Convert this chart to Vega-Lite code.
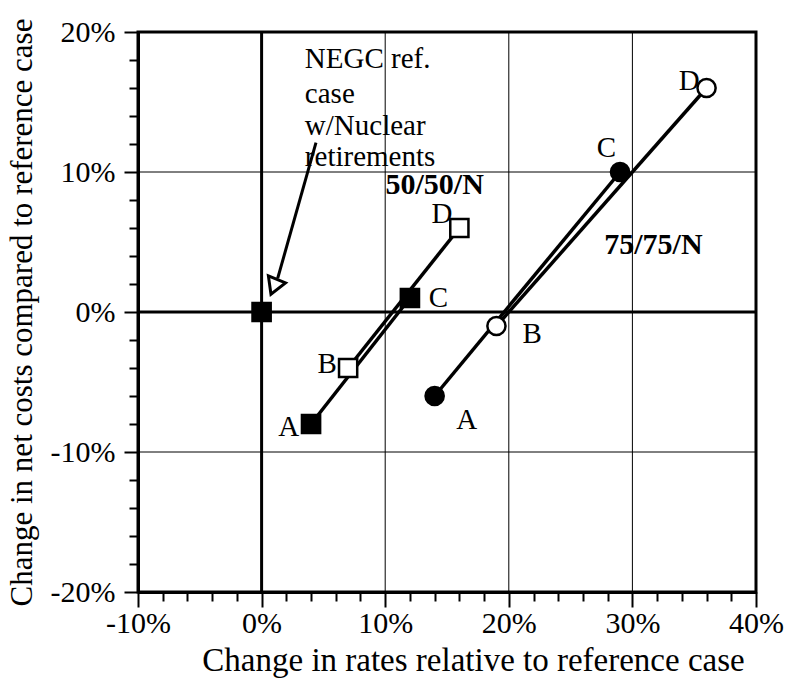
{
  "$schema": "https://vega.github.io/schema/vega-lite/v6.json",
  "width": 618,
  "height": 560,
  "autosize": {"type": "none"},
  "padding": {"left": 138, "top": 32, "right": 29, "bottom": 91},
  "background": "white",
  "config": {
    "font": "Liberation Serif",
    "view": {"stroke": "black", "strokeWidth": 3},
    "axis": {
      "labelFont": "Liberation Serif",
      "labelFontSize": 30,
      "labelColor": "black",
      "titleFont": "Liberation Serif",
      "titleFontSize": 31,
      "titleFontWeight": "normal",
      "titleColor": "black",
      "domainColor": "black",
      "domainWidth": 3,
      "tickColor": "black",
      "tickWidth": 2,
      "grid": false,
      "labelOverlap": false,
      "labelFlush": false,
      "labelBound": false
    }
  },
  "datasets": {
    "vgrid": [
      {"x": 0, "w": "zero"},
      {"x": 10, "w": "grid"},
      {"x": 20, "w": "grid"},
      {"x": 30, "w": "grid"}
    ],
    "hgrid": [
      {"y": -10, "w": "grid"},
      {"y": 0, "w": "zero"},
      {"y": 10, "w": "grid"}
    ],
    "lines": [
      {"s": "50f", "x": 4, "y": -8},
      {"s": "50f", "x": 12, "y": 1},
      {"s": "50o", "x": 7, "y": -4},
      {"s": "50o", "x": 16, "y": 6},
      {"s": "75f", "x": 14, "y": -6},
      {"s": "75f", "x": 29, "y": 10},
      {"s": "75o", "x": 19, "y": -1},
      {"s": "75o", "x": 36, "y": 16}
    ],
    "points": [
      {"kind": "filled square", "x": 0, "y": 0},
      {"kind": "filled square", "x": 4, "y": -8},
      {"kind": "open square", "x": 7, "y": -4},
      {"kind": "filled square", "x": 12, "y": 1},
      {"kind": "open square", "x": 16, "y": 6},
      {"kind": "filled circle", "x": 14, "y": -6},
      {"kind": "open circle", "x": 19, "y": -1},
      {"kind": "filled circle", "x": 29, "y": 10},
      {"kind": "open circle", "x": 36, "y": 16}
    ],
    "pointLabels": [
      {"t": "A", "x": 2.2, "y": -8.2},
      {"t": "B", "x": 5.3, "y": -3.7},
      {"t": "C", "x": 14.3, "y": 1.0},
      {"t": "D", "x": 14.6, "y": 7.0},
      {"t": "A", "x": 16.6, "y": -7.7},
      {"t": "B", "x": 21.9, "y": -1.6},
      {"t": "C", "x": 27.9, "y": 11.7},
      {"t": "D", "x": 34.6, "y": 16.5}
    ],
    "seriesLabels": [
      {"t": "50/50/N", "x": 14.0, "y": 9.1},
      {"t": "75/75/N", "x": 31.7, "y": 4.8}
    ],
    "annotation": [
      {"t": "NEGC ref.", "x": 3.5, "y": 18.1},
      {"t": "case", "x": 3.5, "y": 15.6},
      {"t": "w/Nuclear", "x": 3.5, "y": 13.3},
      {"t": "retirements", "x": 3.5, "y": 11.1}
    ],
    "arrow": [
      {"x": 4.4, "y": 12.1, "x2": 1.3, "y2": 2.4}
    ],
    "arrowHead": [
      {"x": 1.0, "y": 1.8}
    ]
  },
  "layer": [
    {
      "data": {"name": "vgrid"},
      "mark": {"type": "rule", "color": "black"},
      "encoding": {
        "x": {
          "field": "x", "type": "quantitative",
          "scale": {"domain": [-10, 40], "nice": false, "zero": false},
          "axis": {
            "title": "Change in rates relative to reference case",
            "titleFontSize": 33,
            "titleX": 335,
            "values": [-10, -8, -6, -4, -2, 0, 2, 4, 6, 8, 10, 12, 14, 16, 18, 20, 22, 24, 26, 28, 30, 32, 34, 36, 38, 40],
            "tickCount": 200,
            "labelExpr": "datum.value % 10 === 0 ? datum.value + '%' : ''",
            "labelOverlap": false,
            "tickSize": {"condition": {"test": "datum.value % 10 === 0", "value": 15}, "value": 9},
            "labelPadding": 1,
            "titlePadding": 6
          }
        },
        "strokeWidth": {
          "field": "w", "type": "nominal",
          "scale": {"domain": ["zero", "grid"], "range": [3, 1]},
          "legend": null
        }
      }
    },
    {
      "data": {"name": "hgrid"},
      "mark": {"type": "rule", "color": "black"},
      "encoding": {
        "y": {
          "field": "y", "type": "quantitative",
          "scale": {"domain": [-20, 20], "nice": false, "zero": false},
          "axis": {
            "title": "Change in net costs compared to reference case",
            "titleFontSize": 31,
            "titleX": -116,
            "titleBaseline": "middle",
            "values": [-20, -18, -16, -14, -12, -10, -8, -6, -4, -2, 0, 2, 4, 6, 8, 10, 12, 14, 16, 18, 20],
            "tickCount": 200,
            "labelExpr": "datum.value % 10 === 0 ? datum.value + '%' : ''",
            "labelOverlap": false,
            "tickSize": {"condition": {"test": "datum.value % 10 === 0", "value": 14}, "value": 9},
            "labelPadding": 9,
            "titlePadding": 2
          }
        },
        "strokeWidth": {
          "field": "w", "type": "nominal",
          "scale": {"domain": ["zero", "grid"], "range": [3, 1]},
          "legend": null
        }
      }
    },
    {
      "data": {"name": "lines"},
      "mark": {"type": "line", "color": "black", "strokeWidth": 3.5},
      "encoding": {
        "x": {"field": "x", "type": "quantitative"},
        "y": {"field": "y", "type": "quantitative"},
        "detail": {"field": "s"}
      }
    },
    {
      "data": {"name": "arrow"},
      "mark": {"type": "rule", "color": "black", "strokeWidth": 3},
      "encoding": {
        "x": {"field": "x", "type": "quantitative"},
        "y": {"field": "y", "type": "quantitative"},
        "x2": {"field": "x2"},
        "y2": {"field": "y2"}
      }
    },
    {
      "data": {"name": "arrowHead"},
      "mark": {"type": "point", "shape": "triangle-down", "angle": 22, "size": 340, "filled": true, "fill": "white", "stroke": "black", "strokeWidth": 3, "opacity": 1},
      "encoding": {
        "x": {"field": "x", "type": "quantitative"},
        "y": {"field": "y", "type": "quantitative"}
      }
    },
    {
      "data": {"name": "points"},
      "mark": {"type": "point", "size": 330, "stroke": "black", "strokeWidth": 2.5, "opacity": 1, "filled": true},
      "encoding": {
        "x": {"field": "x", "type": "quantitative"},
        "y": {"field": "y", "type": "quantitative"},
        "shape": {
          "field": "kind", "type": "nominal",
          "scale": {"domain": ["filled square", "open square", "filled circle", "open circle"], "range": ["square", "square", "circle", "circle"]},
          "legend": null
        },
        "fill": {
          "field": "kind", "type": "nominal",
          "scale": {"domain": ["filled square", "open square", "filled circle", "open circle"], "range": ["black", "white", "black", "white"]},
          "legend": null
        }
      }
    },
    {
      "data": {"name": "pointLabels"},
      "mark": {"type": "text", "font": "Liberation Serif", "fontSize": 29, "color": "black", "align": "center", "baseline": "middle"},
      "encoding": {
        "x": {"field": "x", "type": "quantitative"},
        "y": {"field": "y", "type": "quantitative"},
        "text": {"field": "t"}
      }
    },
    {
      "data": {"name": "seriesLabels"},
      "mark": {"type": "text", "font": "Liberation Serif", "fontSize": 30, "fontWeight": "bold", "color": "black", "align": "center", "baseline": "middle"},
      "encoding": {
        "x": {"field": "x", "type": "quantitative"},
        "y": {"field": "y", "type": "quantitative"},
        "text": {"field": "t"}
      }
    },
    {
      "data": {"name": "annotation"},
      "mark": {"type": "text", "font": "Liberation Serif", "fontSize": 29, "color": "black", "align": "left", "baseline": "middle"},
      "encoding": {
        "x": {"field": "x", "type": "quantitative"},
        "y": {"field": "y", "type": "quantitative"},
        "text": {"field": "t"}
      }
    }
  ]
}
